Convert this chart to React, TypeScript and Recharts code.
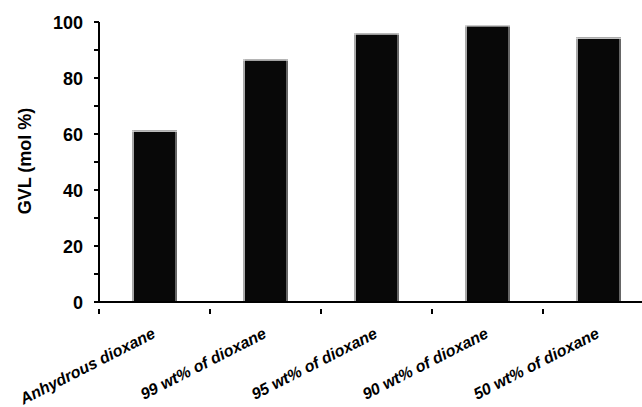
import React from "react"
import { BarChart, Bar, XAxis, YAxis } from "recharts"

const solvents = [
  "Anhydrous dioxane",
  "99 wt% of dioxane",
  "95 wt% of dioxane",
  "90 wt% of dioxane",
  "50 wt% of dioxane",
]
const gvl = [61.3, 86.7, 96, 98.9, 94.5]
const yTicks = [0, 10, 20, 30, 40, 50, 60, 70, 80, 90, 100]

const data = solvents.map((name, i) => ({ name, gvl: gvl[i] }))

const FONT = "'Liberation Sans', Arial, sans-serif"
const W = 660
const H = 407
const TOP = 22
const BOTTOM = 5
const X_AXIS_H = 100

// black column with the grey bevelled edges of the original
function BevelBar(props: any) {
  const { x, y, width, height } = props
  if (height <= 0) return null
  return (
    <g>
      <rect x={x} y={y} width={width} height={height} fill="#080808" />
      <rect x={x} y={y} width={2} height={height} fill="#a8a8a8" />
      <rect x={x + width - 2} y={y} width={2} height={height} fill="#666" />
      <rect x={x} y={y} width={width} height={1.5} fill="#d8d8d8" />
    </g>
  )
}

function SolventTick(props: any) {
  const { x, y, payload } = props
  const half = payload && payload.offset ? payload.offset : 55.5
  const tx = x + 2
  const ty = y + 27
  return (
    <g>
      <line x1={x - half} y1={y - 1} x2={x - half} y2={y + 4} stroke="#000" strokeWidth={2} />
      <line x1={x + half} y1={y - 1} x2={x + half} y2={y + 4} stroke="#000" strokeWidth={2} />
      <text
        x={tx}
        y={ty}
        textAnchor="end"
        transform={`rotate(-27, ${tx}, ${ty})`}
        fontFamily={FONT}
        fontSize={16}
        fontWeight={700}
        fontStyle="italic"
        fill="#000"
      >
        {payload.value}
      </text>
    </g>
  )
}

function ValueTick(props: any) {
  const { x, y, payload } = props
  const v = payload.value
  if (v % 20 !== 0) return null
  return (
    <text
      x={x}
      y={y + 6.5}
      textAnchor="end"
      fontFamily={FONT}
      fontSize={18}
      fontWeight={700}
      fill="#000"
    >
      {String(v)}
    </text>
  )
}

function YLabel() {
  const cx = 31
  const cy = TOP + (H - TOP - BOTTOM - X_AXIS_H) / 2 - 1
  return (
    <text
      x={cx}
      y={cy}
      textAnchor="middle"
      transform={`rotate(-90, ${cx}, ${cy})`}
      fontFamily={FONT}
      fontSize={18}
      fontWeight={700}
      fill="#000"
    >
      GVL (mol %)
    </text>
  )
}

export default function App() {
  return (
    <div
      style={{
        position: "absolute",
        left: 0,
        top: 0,
        width: 642,
        height: 407,
        overflow: "hidden",
        background: "#fff",
      }}
    >
      <BarChart
        width={W}
        height={H}
        data={data}
        margin={{ top: TOP, right: 6, left: 0, bottom: BOTTOM }}
        barSize={45}
      >
        <XAxis
          dataKey="name"
          height={X_AXIS_H}
          axisLine={{ stroke: "#000", strokeWidth: 2 }}
          tickLine={false}
          tick={<SolventTick />}
          interval={0}
        />
        <YAxis
          width={99}
          domain={[0, 100]}
          ticks={yTicks}
          interval={0}
          axisLine={{ stroke: "#000", strokeWidth: 2 }}
          tickLine={{ stroke: "#000", strokeWidth: 2 }}
          tickSize={5}
          tickMargin={11}
          tick={<ValueTick />}
          label={<YLabel />}
        />
        <Bar dataKey="gvl" shape={<BevelBar />} isAnimationActive={false} />
      </BarChart>
    </div>
  )
}
